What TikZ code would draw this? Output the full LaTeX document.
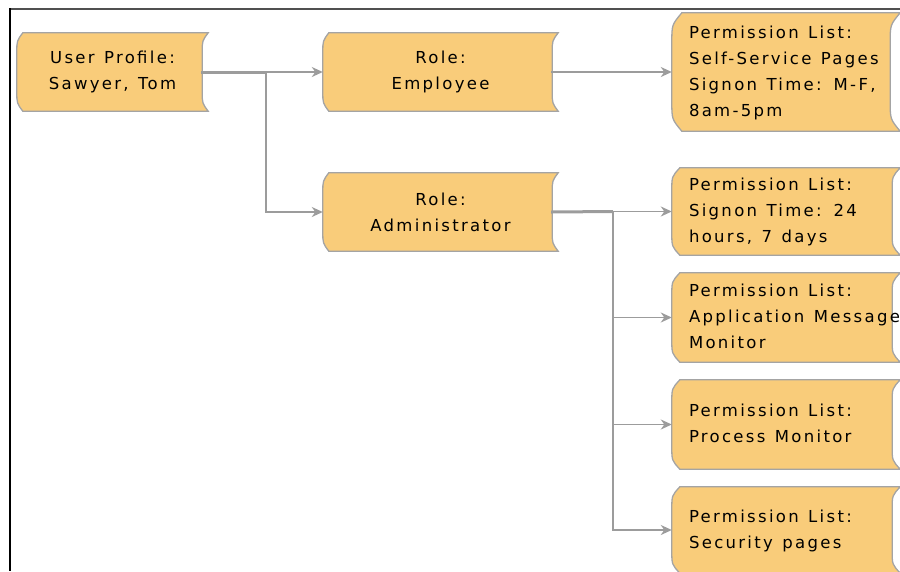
\documentclass[tikz,border=0pt]{standalone}
\usepackage{fontspec}
\setmainfont{DejaVu Sans}[LetterSpace=14,WordSpace=1.25]
\usetikzlibrary{arrows.meta,backgrounds,calc}
\definecolor{cardfill}{HTML}{F9CC7A}
\definecolor{cardline}{HTML}{A4A4A4}
\definecolor{conn}{HTML}{9C9C9C}
\definecolor{frametop}{HTML}{505050}
\newcommand{\plist}[1]{\makebox[194pt][l]{\begin{tabular}{@{}l@{}}#1\end{tabular}}}
\begin{document}
\begin{tikzpicture}[x=1pt,y=-1pt,
  card/.style={rectangle, inner sep=0pt, font=\fontsize{16.5}{26}\selectfont, text=black},
  ccard/.style={card, align=center},
  lcard/.style={card, inner xsep=17pt},
  thick link/.style={draw=conn, line width=3pt},
  link/.style={draw=conn, line width=1.7pt, -{Stealth[length=11pt,width=10pt,inset=3.5pt]}},
  shapeline/.style={draw=cardline, fill=cardfill, line width=1.3pt}]
\useasboundingbox (0,0) rectangle (900,571);
% frame
\draw[frametop, line width=2pt] (10,9) -- (900,9);
\draw[black, line width=2pt] (10,8) -- (10,571);
% nodes
\node[ccard, minimum width=191pt, minimum height=78pt] (up) at (112.5,72) {User Profile:\\Sawyer, Tom};
\node[ccard, minimum width=235pt, minimum height=78pt] (emp) at (440.5,72) {Role:\\Employee};
\node[ccard, minimum width=235pt, minimum height=78pt] (adm) at (440.5,212) {Role:\\Administrator};
\node[lcard, minimum height=118pt] (p1) at (786,72) {\plist{Permission List:\\Self-Service Pages\\Signon Time: M-F,\\8am-5pm}};
\node[lcard, minimum height=87pt] (p2) at (786,211.5) {\plist{Permission List:\\Signon Time: 24\\hours, 7 days}};
\node[lcard, minimum height=89pt] (p3) at (786,317.5) {\plist{Permission List:\\Application Message\\Monitor}};
\node[lcard, minimum height=89pt] (p4) at (786,424.5) {\plist{Permission List:\\Process Monitor}};
\node[lcard, minimum height=86pt] (p5) at (786,530) {\plist{Permission List:\\Security pages}};
% card outlines
\begin{scope}[on background layer]
\foreach \n/\o/\c in {up/6/20, emp/6/20, adm/6/20, p1/10/30, p2/8/22, p3/8/22, p4/8/22, p5/8/22}{
  \path[shapeline]
    ([xshift=\o pt]\n.north west)
      .. controls ([yshift=-0.4*\c pt]\n.north west) .. ([yshift=-\c pt]\n.north west)
      -- ([yshift=\c pt]\n.south west)
      .. controls ([yshift=0.4*\c pt]\n.south west) .. ([xshift=\o pt]\n.south west)
      -- (\n.south east)
      .. controls ([xshift=-\o pt, yshift=0.4*\c pt]\n.south east) .. ([xshift=-\o pt, yshift=\c pt]\n.south east)
      -- ([xshift=-\o pt, yshift=-\c pt]\n.north east)
      .. controls ([xshift=-\o pt, yshift=-0.4*\c pt]\n.north east) .. (\n.north east)
      -- cycle;
}
\end{scope}
% connectors
\coordinate (j1) at (266,72);
\coordinate (j2) at (613,211.5);
\draw[thick link] ([xshift=-7pt]up.east) -- (j1);
\draw[link] (j1) -- (emp.west);
\draw[link] (j1) |- (adm.west);
\draw[link] ([xshift=-7pt]emp.east) -- (p1.west);
\draw[thick link] ([xshift=-7pt]adm.east) -- (j2);
\draw[link] (j2) -- (p2.west);
\draw[link] (j2) |- (p3.west);
\draw[link] (j2) |- (p4.west);
\draw[link] (j2) |- (p5.west);
\end{tikzpicture}
\end{document}
